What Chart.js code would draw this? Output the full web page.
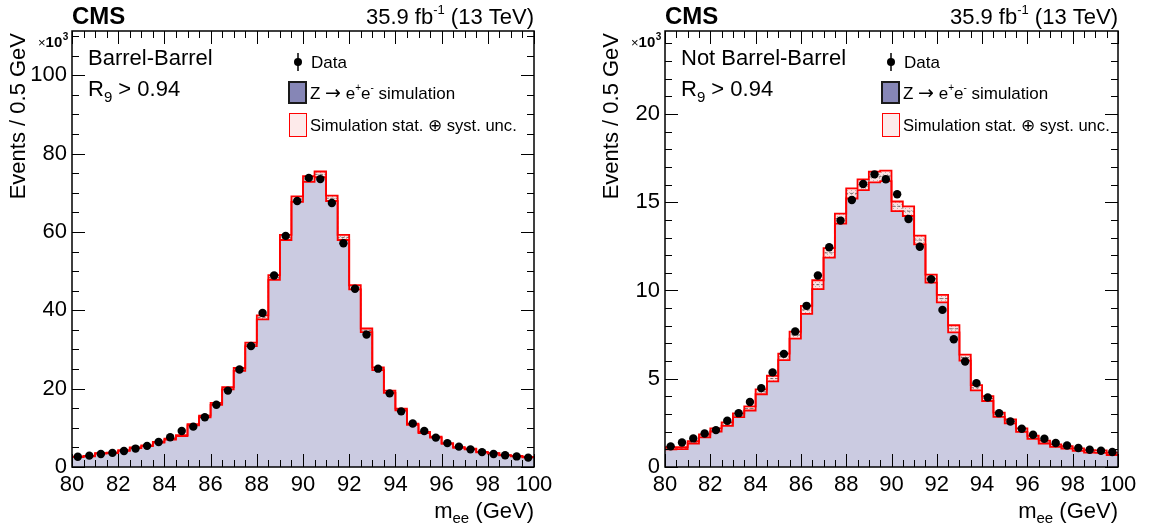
<!DOCTYPE html>
<html><head><meta charset="utf-8">
<script src="https://cdn.jsdelivr.net/npm/chart.js@4.4.1/dist/chart.umd.min.js"></script>
<style>
html,body{margin:0;padding:0;background:#fff;width:1154px;height:529px;overflow:hidden}
canvas{position:absolute;top:0}
#c1{left:0}
#c2{left:577px}
</style></head><body>
<canvas id="c1" width="577" height="529"></canvas>
<canvas id="c2" width="577" height="529"></canvas>
<script>
// ---------- data ----------
const binLow = [80,80.5,81,81.5,82,82.5,83,83.5,84,84.5,85,85.5,86,86.5,87,87.5,88,88.5,89,89.5,
                90,90.5,91,91.5,92,92.5,93,93.5,94,94.5,95,95.5,96,96.5,97,97.5,98,98.5,99,99.5];
const binWidth = 0.5;
const xTickLabels = [80,82,84,86,88,90,92,94,96,98,100];
const yTickLabelsBB = [0,20,40,60,80,100];
const yTickLabelsNBB = [0,5,10,15,20];

// Barrel-Barrel (x10^3 events / 0.5 GeV)
const dataBB = [2.6,2.9,3.3,3.6,4.1,4.7,5.4,6.4,7.6,9.2,10.3,12.7,15.9,19.5,24.9,30.9,39.3,48.9,59.0,67.9,
                73.8,73.5,67.4,57.1,45.5,33.8,25.1,18.8,14.2,11.1,9.2,7.5,6.1,5.2,4.5,3.8,3.3,3.0,2.7,2.4];
const simBB  = [2.6,2.8,3.5,3.6,4.2,4.9,5.4,6.3,7.1,8.0,10.8,12.9,16.1,20.1,24.9,31.3,38.2,48.4,58.6,68.4,
                73.5,74.7,68.6,58.6,45.9,34.9,25.1,19.2,14.7,10.9,8.8,7.6,6.0,5.0,4.6,3.8,3.5,3.0,2.8,2.5];
const uncBB  = [0.05,0.05,0.06,0.06,0.07,0.08,0.09,0.1,0.12,0.13,0.17,0.2,0.25,0.3,0.37,0.45,0.52,0.6,0.65,0.7,
                0.72,0.73,0.7,0.65,0.55,0.45,0.35,0.28,0.22,0.17,0.14,0.12,0.1,0.08,0.07,0.06,0.06,0.05,0.05,0.05];

// Not Barrel-Barrel
const dataNBB = [1.17,1.39,1.62,1.90,2.09,2.62,3.05,3.68,4.47,5.36,6.41,7.68,9.13,10.85,12.45,13.96,15.13,16.03,16.58,16.30,
                 15.45,14.05,12.48,10.64,8.90,7.24,5.98,4.75,3.94,3.05,2.58,2.17,1.83,1.60,1.36,1.22,1.08,0.98,0.92,0.85];
const simNBB  = [1.06,1.07,1.40,1.76,2.10,2.43,2.93,3.32,4.26,5.01,6.24,7.47,8.90,10.33,12.13,14.07,15.50,15.99,16.43,16.49,
                 14.77,14.49,12.86,10.67,9.54,7.83,6.20,4.49,3.88,2.96,2.58,2.09,1.68,1.41,1.21,1.11,0.98,0.88,0.87,0.75];
const uncNBB  = [0.06,0.06,0.07,0.08,0.09,0.1,0.11,0.12,0.14,0.16,0.18,0.2,0.23,0.25,0.27,0.28,0.29,0.3,0.3,0.3,
                 0.27,0.27,0.25,0.23,0.21,0.2,0.17,0.15,0.14,0.12,0.11,0.1,0.09,0.08,0.07,0.07,0.07,0.07,0.07,0.07];

// ---------- style ----------
const FONT = "'Liberation Sans', Arial, Helvetica, sans-serif";
const FILL = '#cbcbe1';
const LEGBOX = '#8686b6';
const RED = '#ff0000';

function bandPattern(ctx){
  const c = document.createElement('canvas'); c.width = 4; c.height = 4;
  const g = c.getContext('2d');
  g.fillStyle = '#fbe3e3'; g.fillRect(0,0,4,4);
  g.fillStyle = 'rgba(110,110,110,0.45)'; g.fillRect(0,0,1,1); g.fillRect(2,2,1,1);
  return ctx.createPattern(c,'repeat');
}

const stepPts = (vals) => binLow.map((x,i)=>({x, y: vals[i]})).concat([{x: binLow[binLow.length-1]+binWidth, y: vals[vals.length-1]}]);

const frameTicks = {
  id: 'frameTicks',
  afterDatasetsDraw(chart, args, o){
    const {ctx, chartArea: ca, scales: {x, y}} = chart;
    ctx.save();
    ctx.strokeStyle = '#000'; ctx.lineWidth = 1;
    ctx.beginPath();
    for (let v = x.min; v <= x.max + 1e-9; v += o.xMinor) {
      const px = Math.round(x.getPixelForValue(v)) + 0.5;
      const major = Math.abs(v/o.xMajor - Math.round(v/o.xMajor)) < 1e-6;
      const L = major ? 13 : 7;
      ctx.moveTo(px, ca.bottom); ctx.lineTo(px, ca.bottom - L);
      ctx.moveTo(px, ca.top); ctx.lineTo(px, ca.top + L);
    }
    for (let v = 0; v <= y.max + 1e-9; v += o.yMinor) {
      const py = Math.round(y.getPixelForValue(v)) + 0.5;
      const major = Math.abs(v/o.yMajor - Math.round(v/o.yMajor)) < 1e-6;
      const L = major ? 13 : 7;
      ctx.moveTo(ca.left, py); ctx.lineTo(ca.left + L, py);
      ctx.moveTo(ca.right, py); ctx.lineTo(ca.right - L, py);
    }
    ctx.stroke();
    ctx.lineWidth = 1.5;
    ctx.strokeRect(ca.left, ca.top, ca.right - ca.left, ca.bottom - ca.top);
    ctx.restore();
  }
};

const texts = {
  id: 'texts',
  afterDraw(chart, args, o){
    const {ctx, chartArea: ca} = chart;
    ctx.save();
    ctx.fillStyle = '#000';
    ctx.textBaseline = 'alphabetic';
    ctx.textAlign = 'left';
    // CMS
    ctx.font = `bold 24px ${FONT}`;
    ctx.fillText('CMS', ca.left, 24);
    // lumi
    ctx.font = `22px ${FONT}`;
    const a = '35.9 fb', b = ' (13 TeV)';
    const wa = ctx.measureText(a).width, wb = ctx.measureText(b).width;
    ctx.font = `13px ${FONT}`;
    const ws = ctx.measureText('-1').width;
    let sx = ca.right - (wa + ws + wb);
    ctx.font = `22px ${FONT}`; ctx.fillText(a, sx, 24);
    ctx.font = `13px ${FONT}`; ctx.fillText('-1', sx + wa, 14);
    ctx.font = `22px ${FONT}`; ctx.fillText(b, sx + wa + ws, 24);
    // x10^3
    let mx = ca.left - 34;
    ctx.font = `13px ${FONT}`; ctx.fillText('×', mx, 47); mx += ctx.measureText('×').width;
    ctx.font = `bold 15px ${FONT}`; ctx.fillText('10', mx, 47); mx += ctx.measureText('10').width;
    ctx.font = `bold 10px ${FONT}`; ctx.fillText('3', mx + 0.5, 40);
    // region labels
    ctx.font = `22px ${FONT}`;
    ctx.fillText(o.region, ca.left + 16, 65);
    ctx.fillText('R', ca.left + 16, 96);
    let rx = ca.left + 16 + ctx.measureText('R').width;
    ctx.font = `15px ${FONT}`; ctx.fillText('9', rx, 102); rx += ctx.measureText('9').width;
    ctx.font = `22px ${FONT}`; ctx.fillText(' > 0.94', rx, 96);
    // legend
    const lx = ca.left + 216;
    ctx.strokeStyle = '#000'; ctx.lineWidth = 1.5;
    ctx.beginPath(); ctx.moveTo(lx + 10, 53); ctx.lineTo(lx + 10, 71); ctx.stroke();
    ctx.beginPath(); ctx.arc(lx + 10, 62, 4, 0, Math.PI*2); ctx.fill();
    ctx.font = `17px ${FONT}`; ctx.textBaseline = 'middle';
    ctx.fillText('Data', lx + 23, 63);
    ctx.fillStyle = LEGBOX; ctx.fillRect(lx + 1, 82, 17, 21);
    ctx.strokeStyle = '#1a1a1a'; ctx.lineWidth = 2; ctx.strokeRect(lx + 1, 82, 17, 21);
    ctx.fillStyle = '#000';
    let tx = lx + 22;
    const seg = (t, f, dy) => { ctx.font = f; ctx.fillText(t, tx, 94 + dy); tx += ctx.measureText(t).width; };
    seg('Z ', `17px ${FONT}`, 0); seg('→', `19px 'DejaVu Sans', ${FONT}`, 0); seg(' e', `17px ${FONT}`, 0);
    seg('+', `10px ${FONT}`, -6); seg('e', `17px ${FONT}`, 0); seg('-', `10px ${FONT}`, -6);
    seg(' simulation', `17px ${FONT}`, 0);
    ctx.fillStyle = '#fdeaea'; ctx.fillRect(lx + 1, 113, 17, 23);
    ctx.strokeStyle = RED; ctx.lineWidth = 1; ctx.strokeRect(lx + 1.5, 113.5, 17, 23);
    ctx.fillStyle = '#000'; ctx.font = `16.6px ${FONT}`;
    ctx.fillText('Simulation stat. ⊕ syst. unc.', lx + 22, 126);
    // x title
    ctx.textBaseline = 'alphabetic';
    const f1 = `22px ${FONT}`, f2 = `15px ${FONT}`;
    ctx.font = f1; const wm = ctx.measureText('m').width, wg = ctx.measureText(' (GeV)').width;
    ctx.font = f2; const we = ctx.measureText('ee').width;
    let xx = ca.right - (wm + we + wg);
    ctx.font = f1; ctx.fillText('m', xx, 518); xx += wm;
    ctx.font = f2; ctx.fillText('ee', xx, 523); xx += we;
    ctx.font = f1; ctx.fillText(' (GeV)', xx, 518);
    // y title
    ctx.save();
    ctx.translate(ca.left - 53, 33);
    ctx.rotate(-Math.PI/2);
    ctx.textAlign = 'right'; ctx.textBaseline = 'middle';
    ctx.font = f1;
    ctx.fillText('Events / 0.5 GeV', 0, 0);
    ctx.restore();
    ctx.restore();
  }
};

function makeChart(id, d, sim, unc, yTicks, yMax, yMajor, yMinor, region, padL, padR){
  const canvas = document.getElementById(id);
  const ctx = canvas.getContext('2d');
  const hi = sim.map((v,i)=>v+unc[i]);
  const lo = sim.map((v,i)=>v-unc[i]);
  return new Chart(ctx, {
    data: {
      datasets: [
        { type:'scatter', data: binLow.map((x,i)=>({x: x + binWidth/2, y: d[i]})),
          pointRadius: 4.2, pointBackgroundColor:'#000', pointBorderWidth:0, order:0 },
        { type:'line', data: stepPts(hi), stepped:true, borderColor:RED, borderWidth:1.8, pointRadius:0, fill:false, order:1 },
        { type:'line', data: stepPts(lo), stepped:true, borderColor:RED, borderWidth:1.8, pointRadius:0, fill:false, order:1 },
        { type:'line', data: stepPts(sim), stepped:true, borderColor:'rgba(60,60,60,0.7)', borderWidth:1, borderDash:[3,2], pointRadius:0, fill:false, order:2 },
        { type:'bar', data: binLow.map((x,i)=>({x: x + binWidth/2, y: [lo[i], hi[i]]})),
          backgroundColor: bandPattern(ctx), borderWidth:0, barPercentage:1, categoryPercentage:1, order:3 },
        { type:'line', data: stepPts(sim), stepped:true, fill:'origin', backgroundColor:FILL,
          borderColor:'rgba(0,0,0,0)', borderWidth:0, pointRadius:0, order:4 }
      ]
    },
    options: {
      responsive:false, animation:false, events:[],
      layout:{ padding:{ left:padL, right:padR, top:31, bottom:12 } },
      plugins:{ legend:{display:false}, tooltip:{enabled:false},
        frameTicks:{ xMajor:2, xMinor:0.5, yMajor, yMinor },
        texts:{ region } },
      scales:{
        x:{ type:'linear', min:80, max:100, offset:false,
            grid:{display:false, drawTicks:false}, border:{display:false},
            afterBuildTicks: s => { s.ticks = xTickLabels.map(v=>({value:v})); },
            afterFit: s => { s.height = 50; },
            ticks:{ color:'#000', padding:5, maxRotation:0, autoSkip:false, font:{family:FONT, size:22} } },
        y:{ type:'linear', min:0, max:yMax,
            grid:{display:false, drawTicks:false}, border:{display:false},
            afterBuildTicks: s => { s.ticks = yTicks.map(v=>({value:v})); },
            afterFit: s => { s.width = 60; },
            ticks:{ color:'#000', padding:5, autoSkip:false, font:{family:FONT, size:22} } }
      }
    },
    plugins:[frameTicks, texts]
  });
}

makeChart('c1', dataBB, simBB, uncBB, yTickLabelsBB, 111.3, 20, 5, 'Barrel-Barrel', 12, 43);
makeChart('c2', dataNBB, simNBB, uncNBB, yTickLabelsNBB, 24.7, 5, 1, 'Not Barrel-Barrel', 28, 36);
</script>
</body></html>
